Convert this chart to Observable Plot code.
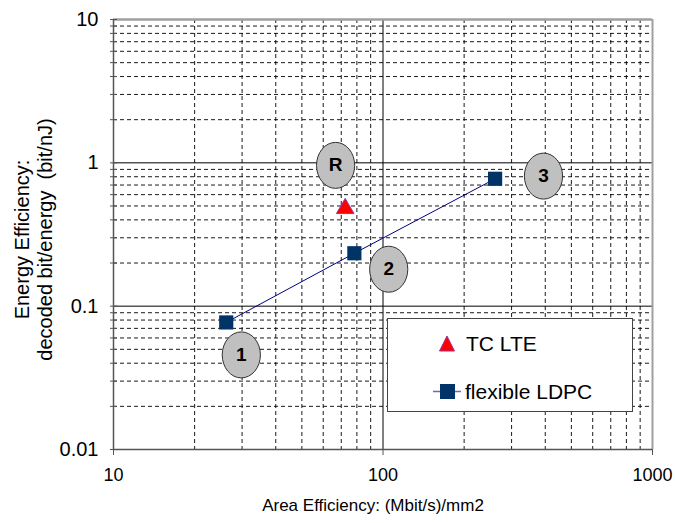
<!DOCTYPE html>
<html>
<head>
<meta charset="utf-8">
<script src="https://cdn.jsdelivr.net/npm/d3@7"></script>
<script src="https://cdn.jsdelivr.net/npm/@observablehq/plot@0.6"></script>
<style>
  body { margin: 0; background: #fff; }
  #wrap { position: relative; width: 675px; height: 523px; font-family: "Liberation Sans", Arial, sans-serif; }
  #legend { position: absolute; left: 387px; top: 318px; width: 244px; height: 92px; border: 1.5px solid #444; background: #fff; box-sizing: content-box; }
</style>
</head>
<body>
<div id="wrap"></div>
<script>
// Data
const ldpcX = [26.2, 78.3, 260.6];
const ldpcY = [0.077, 0.234, 0.774];
const lteX = [72.4];
const lteY = [0.48];
const annotLabels = ["R", "1", "2", "3"];
const annotX = [66.7, 29.8, 105, 394];
const annotY = [0.96, 0.0457, 0.181, 0.808];
const xMajor = [10, 100, 1000];
const yMajor = [0.01, 0.1, 1, 10];
const xMinor = [20,30,40,50,60,70,80,90,200,300,400,500,600,700,800,900];
const yMinor = [0.02,0.03,0.04,0.05,0.06,0.07,0.08,0.09,0.2,0.3,0.4,0.5,0.6,0.7,0.8,0.9,2,3,4,5,6,7,8,9];
const yTickLabels = ["0.01", "0.1", "1", "10"];
const xTickLabels = ["10", "100", "1000"];
const xTitle = "Area Efficiency: (Mbit/s)/mm2";
const yTitle1 = "Energy Efficiency:";
const yTitle2 = "decoded bit/energy  (bit/nJ)";

const ldpc = ldpcX.map((x, i) => ({x, y: ldpcY[i]}));
const lte = lteX.map((x, i) => ({x, y: lteY[i]}));
const annots = annotLabels.map((t, i) => ({t, x: annotX[i], y: annotY[i]}));

const ellipse = {
  draw(context, size) {
    const r = Math.sqrt(size / Math.PI);
    const rx = r * 0.83, ry = r;
    const k = 0.5522847;
    context.moveTo(rx, 0);
    context.bezierCurveTo(rx, ry * k, rx * k, ry, 0, ry);
    context.bezierCurveTo(-rx * k, ry, -rx, ry * k, -rx, 0);
    context.bezierCurveTo(-rx, -ry * k, -rx * k, -ry, 0, -ry);
    context.bezierCurveTo(rx * k, -ry, rx, -ry * k, rx, 0);
    context.closePath();
  }
};

const allY = yMajor.concat(yMinor);

const chart = Plot.plot({
  width: 675,
  height: 523,
  marginLeft: 113,
  marginRight: 23,
  marginTop: 19,
  marginBottom: 74,
  style: {fontFamily: "Liberation Sans, Arial, sans-serif", fontSize: "17px", color: "#000", background: "#fff"},
  x: {type: "log", domain: [10, 1000]},
  y: {type: "log", domain: [0.01, 10]},
  marks: [
    Plot.ruleX(xMinor, {stroke: "#000", strokeWidth: 1, strokeDasharray: "4,3", strokeOpacity: 0.9}),
    Plot.ruleY(yMinor, {stroke: "#000", strokeWidth: 1, strokeDasharray: "4,3", strokeOpacity: 0.9}),
    Plot.ruleX([100], {stroke: "#000", strokeWidth: 1}),
    Plot.ruleY([0.1, 1], {stroke: "#000", strokeWidth: 1}),
    Plot.ruleY([10], {stroke: "#a0a0a0", strokeWidth: 2.5}),
    Plot.ruleX([1000], {stroke: "#a0a0a0", strokeWidth: 2}),
    Plot.ruleX([10], {stroke: "#555", strokeWidth: 1.5}),
    Plot.ruleY([0.01], {stroke: "#555", strokeWidth: 1.5}),
    Plot.axisX({ticks: xMajor, tickSize: 6, tickPadding: 13, tickFormat: d => xTickLabels[xMajor.indexOf(d)], stroke: "#555", fontSize: 18, label: null}),
    Plot.axisY({ticks: allY, tickSize: 3, tickPadding: 12, tickFormat: d => { const i = yMajor.indexOf(d); return i >= 0 ? yTickLabels[i] : ""; }, stroke: "#555", fontSize: 20, label: null}),
    Plot.axisY({ticks: allY, tickSize: -4, tickFormat: () => "", stroke: "#555", label: null}),
    Plot.text([xTitle], {frameAnchor: "bottom", textAnchor: "middle", dx: -10, dy: 61, fontSize: 17, fill: "#000"}),
    Plot.text([yTitle1], {frameAnchor: "left", textAnchor: "middle", dx: -91, dy: 5, rotate: -90, fontSize: 20, fill: "#000"}),
    Plot.text([yTitle2], {frameAnchor: "left", textAnchor: "middle", dx: -68, dy: 5, rotate: -90, fontSize: 20, fill: "#000"}),
    Plot.line(ldpc, {x: "x", y: "y", stroke: "#000080", strokeWidth: 1}),
    Plot.dot(ldpc, {x: "x", y: "y", symbol: "square", r: 8, fill: "#003366", stroke: "none"}),
    Plot.dot(lte, {x: "x", y: "y", symbol: "triangle", r: 6.5, fill: "#ff0000", stroke: "#993399", strokeWidth: 1}),
    Plot.dot(annots, {x: "x", y: "y", symbol: ellipse, r: 23, fill: "#c0c0c0", stroke: "#333", strokeWidth: 1}),
    Plot.text(annots, {x: "x", y: "y", text: "t", fontSize: 19, fontWeight: "bold", fill: "#000"})
  ]
});

const wrap = document.getElementById("wrap");
wrap.appendChild(chart);

const legend = document.createElement("div");
legend.id = "legend";
legend.innerHTML = `
  <svg width="244" height="92" style="position:absolute;left:0;top:0">
    <path d="M59,17 L66.5,32 L51.5,32 Z" fill="#ff0000" stroke="#993399" stroke-width="1"/>
    <line x1="45" x2="73" y1="72.5" y2="72.5" stroke="#6666cc" stroke-width="1.5"/>
    <rect x="52" y="65" width="15" height="15" fill="#003366"/>
    <text x="78" y="32" font-size="21" font-family="Liberation Sans, Arial, sans-serif">TC LTE</text>
    <text x="77" y="80" font-size="21" font-family="Liberation Sans, Arial, sans-serif">flexible LDPC</text>
  </svg>`;
wrap.appendChild(legend);
</script>
</body>
</html>
